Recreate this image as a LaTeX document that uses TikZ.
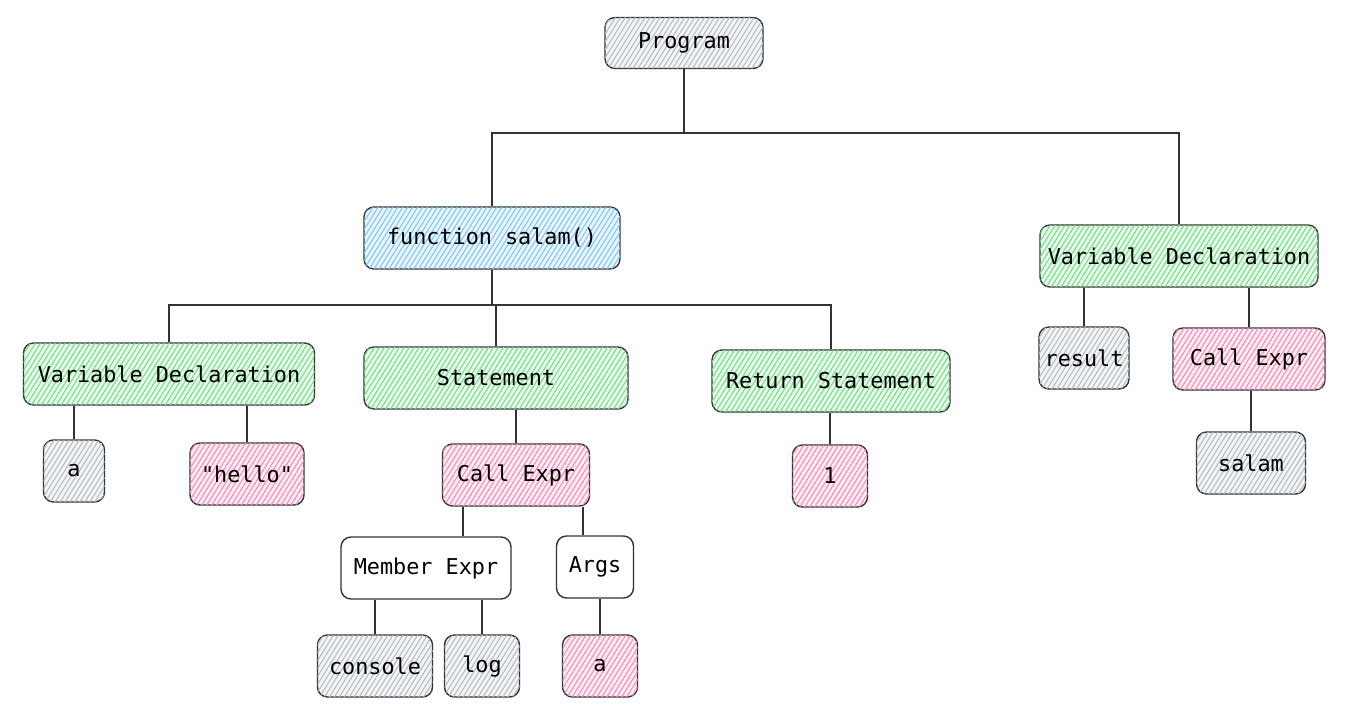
\documentclass[tikz,border=0pt]{standalone}
\usepackage{fontspec}
\setmonofont{DejaVu Sans Mono}
\usetikzlibrary{positioning}
\usetikzlibrary{patterns.meta}
\definecolor{hgray}{HTML}{ADB5BD}
\definecolor{hblue}{HTML}{74C0FC}
\definecolor{hgreen}{HTML}{69DB7C}
\definecolor{hpink}{HTML}{F783AC}
\tikzset{
    box/.style = {rectangle, rounded corners=5pt, draw=black!80, line width=0.7pt, minimum height=31pt, inner sep=2pt, font=\ttfamily\fontsize{10.9}{13}\selectfont},
    hatch/.style = {box, fill=#1!15, postaction={pattern={Lines[angle=58,distance=2.1pt,line width=0.55pt]}, pattern color=#1!90}},
    boxg/.style = {hatch=hgray},
    boxb/.style = {hatch=hblue},
    boxn/.style = {hatch=hgreen},
    boxp/.style = {hatch=hpink},
    boxw/.style = {box, fill=white},
    link/.style = {draw=black!80, line width=0.6pt}
}
\begin{document}
\begin{tikzpicture}[x=0.5pt,y=-0.5pt]
\useasboundingbox (0,0) rectangle (1363,717);
\node[boxg, minimum width=79pt, minimum height=25.5pt] at (684,43) (prog) {Program};
\node[boxb, minimum width=128pt] at (492,238) (fn) {function salam()};
\node[boxn, minimum width=139pt] at (1179,256) (vdr) {Variable Declaration};
\node[boxn, minimum width=145.5pt] at (169,374) (vdl) {Variable Declaration};
\node[boxn, minimum width=132pt] at (496,378) (stm) {Statement};
\node[boxn, minimum width=119pt] at (831,381) (ret) {Return Statement};
\node[boxg, minimum width=30.5pt] at (74,471) (va) {a};
\node[boxp, minimum width=57pt] at (247,474) (hello) {"hello"};
\node[boxp, minimum width=73.5pt] at (516,475) (ce) {Call Expr};
\node[boxp, minimum width=37.5pt] at (830,476) (one) {1};
\node[boxg, minimum width=45pt] at (1084,358) (res) {result};
\node[boxp, minimum width=76pt] at (1249,359) (cer) {Call Expr};
\node[boxg, minimum width=54.5pt] at (1251,463) (sal) {salam};
\node[boxw, minimum width=85pt] at (426,568) (me) {Member Expr};
\node[boxw, minimum width=38.5pt] at (595,567) (args) {Args};
\node[boxg, minimum width=57.5pt] at (375,666) (con) {console};
\node[boxg, minimum width=37.5pt] at (482,666) (log) {log};
\node[boxp, minimum width=37.5pt] at (600,666) (aa) {a};
%
\coordinate (j1) at (684,133);
\coordinate (j2) at (492,305);
\draw[link] (prog.south) -- (j1);
\draw[link] (fn.north) |- (j1) -| (vdr.north);
\draw[link] (fn.south) -- (j2);
\draw[link] (vdl.north) |- (j2) -| (ret.north);
\draw[link] (stm.north) -- (stm.north |- j2);
%
\draw[link] (va.north |- vdl.south) -- (va.north);
\draw[link] (hello.north |- vdl.south) -- (hello.north);
\draw[link] (ce.north |- stm.south) -- (ce.north);
\draw[link] (one.north |- ret.south) -- (one.north);
\draw[link] ([xshift=-26.5pt]ce.south) -- ([xshift=-26.5pt]ce.south |- me.north);
\draw[link] ([xshift=33.5pt]ce.south) -- ([xshift=33.5pt]ce.south |- args.north);
\draw[link] (con.north |- me.south) -- (con.north);
\draw[link] (log.north |- me.south) -- (log.north);
\draw[link] (aa.north |- args.south) -- (aa.north);
\draw[link] (res.north |- vdr.south) -- (res.north);
\draw[link] (cer.north |- vdr.south) -- (cer.north);
\draw[link] (sal.north |- cer.south) -- (sal.north);
\end{tikzpicture}
\end{document}
